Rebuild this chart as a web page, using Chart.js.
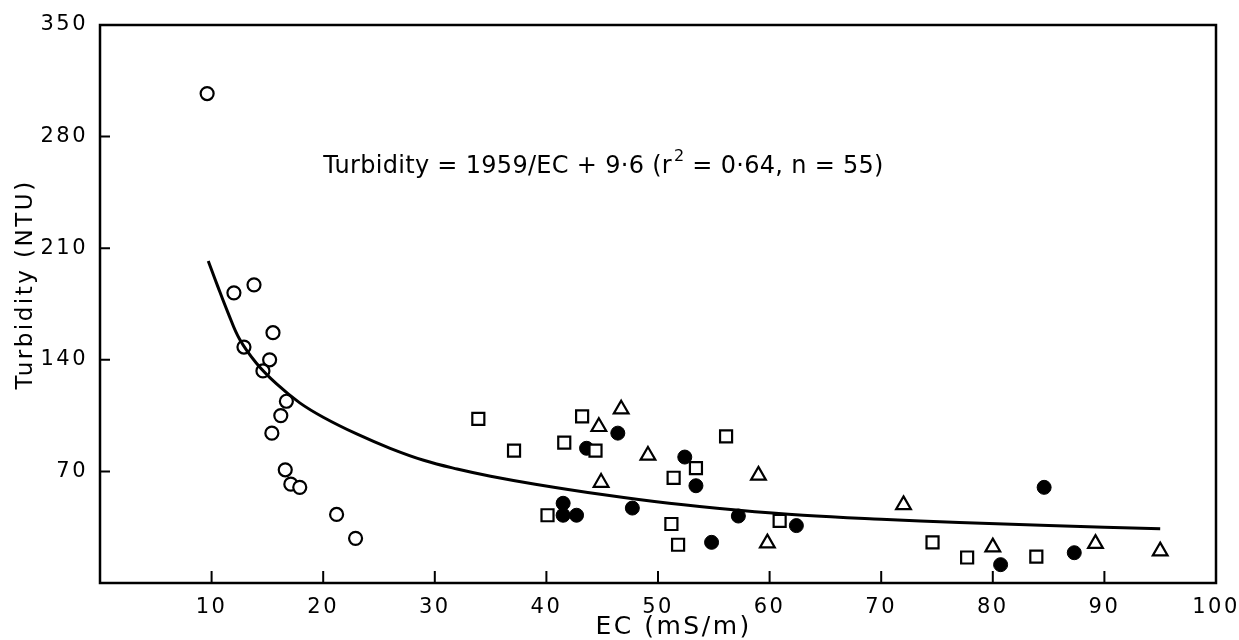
<!DOCTYPE html>
<html>
<head>
<meta charset="utf-8">
<title>Turbidity vs EC</title>
<script src="https://cdn.jsdelivr.net/npm/chart.js@4"></script>
<style>
  html, body { margin: 0; padding: 0; background: #ffffff; }
  #wrap { width: 1239px; height: 640px; }
</style>
</head>
<body>
<div id="wrap"><canvas id="turbChart" width="1239" height="640"></canvas></div>
<script>
// Values (EC in mS/m, turbidity in NTU)
const openEC = [9.6, 12.0, 13.8, 15.5, 12.9, 15.2, 14.6, 16.7, 16.2, 15.4, 16.6, 17.1, 17.9, 21.2, 22.9];
const openTurb = [307, 182, 187, 157, 148, 140, 133, 114, 105, 94, 71, 62, 60, 43, 28];

const squareEC = [33.9, 37.1, 43.2, 41.6, 44.4, 40.1, 56.1, 53.4, 51.4, 51.2, 51.8, 60.9, 74.6, 77.7, 83.9];
const squareTurb = [103, 83, 104.5, 88, 83, 42.5, 92, 72, 66, 37, 24, 39, 25.5, 16, 16.5];

const filledEC = [46.4, 43.6, 52.4, 53.4, 41.5, 41.5, 42.7, 47.7, 54.8, 57.2, 62.4, 84.6, 87.3, 80.7];
const filledTurb = [94, 84.5, 79, 61, 50, 42.5, 42.5, 47, 25.5, 42, 36, 60, 19, 11.5];

const triEC = [46.7, 44.7, 49.1, 44.9, 59.0, 59.8, 72.0, 80.0, 89.2, 95.0];
const triTurb = [109, 98, 80, 63, 67.5, 25, 49, 22.5, 24.7, 20];

// fitted curve
const curveEC = [9.7, 10.5, 11.5, 12.5, 14, 15.8, 17.9, 20, 23, 26, 29, 32, 35, 39, 45, 51, 57, 63, 70, 77, 85, 95];
const curveTurb = [202, 187, 169, 153, 138, 125, 113, 104, 93.5, 84.5, 77, 71.5, 67, 62, 55.5, 50, 45.8, 42.5, 40, 38, 36, 34];

const xTicks = [10, 20, 30, 40, 50, 60, 70, 80, 90, 100];
const yTicks = [70, 140, 210, 280, 350];

const equationText = "Turbidity = 1959/EC + 9\u00b76 (r";
const equationSup = "2";
const equationTail = " = 0\u00b764, n = 55)";
const equationPos = { x: 20, y: 257 };

const fontFamily = "'DejaVu Sans', sans-serif";

function toPoints(xs, ys) {
  return xs.map((x, i) => ({ x: x, y: ys[i] }));
}

// frame, inner tick marks and the equation
const framePlugin = {
  id: "frame",
  beforeDraw(chart) {
    chart.ctx.letterSpacing = "2.5px";
  },
  beforeDatasetsDraw(chart) {
    const { ctx, chartArea, scales } = chart;
    ctx.save();
    ctx.strokeStyle = "#000";
    ctx.lineWidth = 2.5;
    ctx.strokeRect(chartArea.left, chartArea.top, chartArea.right - chartArea.left, chartArea.bottom - chartArea.top);

    ctx.lineWidth = 2;
    ctx.beginPath();
    xTicks.forEach((v) => {
      if (v >= 100) return;
      const px = scales.x.getPixelForValue(v);
      ctx.moveTo(px, chartArea.bottom);
      ctx.lineTo(px, chartArea.bottom - 12);
    });
    yTicks.forEach((v) => {
      if (v >= 350) return;
      const py = scales.y.getPixelForValue(v);
      ctx.moveTo(chartArea.left, py);
      ctx.lineTo(chartArea.left + 10, py);
    });
    ctx.stroke();
    ctx.restore();
  },
  afterDatasetsDraw(chart) {
    const { ctx, scales } = chart;
    ctx.save();
    ctx.fillStyle = "#000";
    ctx.letterSpacing = "0.3px";
    ctx.textBaseline = "alphabetic";
    let px = scales.x.getPixelForValue(equationPos.x);
    const py = scales.y.getPixelForValue(equationPos.y);
    ctx.font = "24px " + fontFamily;
    ctx.fillText(equationText, px, py);
    px += ctx.measureText(equationText).width + 2;
    ctx.font = "16px " + fontFamily;
    ctx.fillText(equationSup, px, py - 12);
    px += ctx.measureText(equationSup).width;
    ctx.font = "24px " + fontFamily;
    ctx.fillText(equationTail, px, py);
    ctx.restore();
  },
};

const tickFont = { family: fontFamily, size: 21 };

new Chart(document.getElementById("turbChart").getContext("2d"), {
  type: "scatter",
  data: {
    datasets: [
      {
        label: "fit",
        type: "line",
        data: toPoints(curveEC, curveTurb),
        borderColor: "#000",
        borderWidth: 3,
        pointRadius: 0,
        fill: false,
        tension: 0.4,
      },
      {
        label: "open circles",
        data: toPoints(openEC, openTurb),
        pointStyle: "circle",
        pointRadius: 6.5,
        borderColor: "#000",
        borderWidth: 2.2,
        backgroundColor: "#fff",
      },
      {
        label: "squares",
        data: toPoints(squareEC, squareTurb),
        pointStyle: "rect",
        pointRadius: 8.5,
        borderColor: "#000",
        borderWidth: 2.2,
        backgroundColor: "#fff",
      },
      {
        label: "filled circles",
        data: toPoints(filledEC, filledTurb),
        pointStyle: "circle",
        pointRadius: 7,
        borderColor: "#000",
        borderWidth: 1,
        backgroundColor: "#000",
      },
      {
        label: "triangles",
        data: toPoints(triEC, triTurb),
        pointStyle: "triangle",
        pointRadius: 8.5,
        borderColor: "#000",
        borderWidth: 2.2,
        backgroundColor: "#fff",
      },
    ],
  },
  options: {
    responsive: false,
    animation: false,
    layout: { padding: { left: 0, right: 23, top: 25, bottom: 0 } },
    plugins: {
      legend: { display: false },
      tooltip: { enabled: false },
    },
    scales: {
      x: {
        type: "linear",
        min: 0,
        max: 100,
        grid: { display: false, drawTicks: false },
        border: { display: false },
        afterBuildTicks: (scale) => {
          scale.ticks = xTicks.map((v) => ({ value: v }));
        },
        afterFit: (scale) => {
          scale.height = 57;
          scale.paddingLeft = 0;
          scale.paddingRight = 0;
        },
        ticks: { color: "#000", font: tickFont, padding: 12, maxRotation: 0 },
        title: {
          display: true,
          text: "   EC (mS/m)",
          color: "#000",
          font: { family: fontFamily, size: 25, lineHeight: 1 },
          padding: { top: 0, bottom: 0 },
        },
      },
      y: {
        type: "linear",
        min: 0,
        max: 350,
        grid: { display: false, drawTicks: false },
        border: { display: false },
        afterBuildTicks: (scale) => {
          scale.ticks = yTicks.map((v) => ({ value: v }));
        },
        afterFit: (scale) => {
          scale.width = 100;
          scale.paddingTop = 0;
          scale.paddingBottom = 0;
        },
        ticks: { color: "#000", font: tickFont, padding: 12 },
        title: {
          display: true,
          text: "    Turbidity (NTU)",
          color: "#000",
          font: { family: fontFamily, size: 23, lineHeight: 1.2 },
          padding: { top: 12, bottom: 0 },
        },
      },
    },
  },
  plugins: [framePlugin],
});
</script>
</body>
</html>
